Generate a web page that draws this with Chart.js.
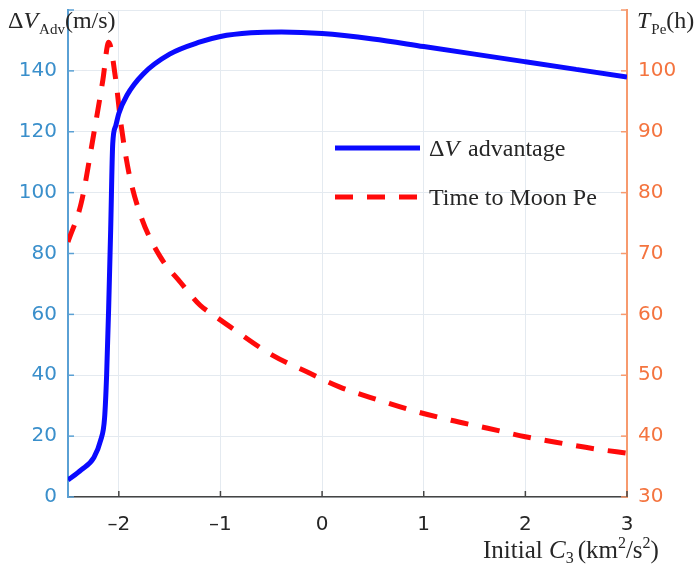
<!DOCTYPE html>
<html>
<head>
<meta charset="utf-8">
<script src="https://cdn.jsdelivr.net/npm/chart.js@4.4.1/dist/chart.umd.min.js"></script>
<style>
  html, body { margin: 0; padding: 0; background: #fff; }
  #wrap { width: 700px; height: 573px; position: relative; }
</style>
</head>
<body>
<div id="wrap"><canvas id="chart" width="700" height="573"></canvas></div>
<script>
// Delta-V advantage (m/s) against initial C3
const dvC3 = [-2.5, -2.37, -2.245, -2.18, -2.14, -2.12, -2.1, -2.08, -2.06, -2.03, -2.0, -1.92, -1.76, -1.5, -1.2, -1.0, -0.7, -0.4, 0, 0.5, 1, 1.5, 2, 2.5, 3];
const dvAdv = [5.6, 8.9, 13, 18.5, 26, 40, 62, 88, 116, 122, 126, 132, 139, 145.5, 149.5, 151.3, 152.5, 152.8, 152.3, 150.5, 148, 145.5, 143, 140.5, 138];

// time to Moon periapsis (h) against initial C3
const tpC3 = [-2.5, -2.37, -2.245, -2.157, -2.1, -2.03, -1.98, -1.9, -1.78, -1.59, -1.39, -1.2, -1.07, -0.9, -0.49, -0.13, 0.17, 0.56, 0.87, 1.27, 1.63, 2.0, 2.3, 2.69, 3.0];
const tpHours = [71.9, 78.3, 89.8, 98.5, 104.7, 98.5, 91.4, 83.2, 76, 69.4, 65.2, 61.5, 59.9, 57.9, 53.3, 50.4, 48.1, 45.9, 44.3, 42.6, 41.3, 39.9, 39, 37.9, 37.2];

const xTicks = [-2, -1, 0, 1, 2, 3];
const leftTicks = [0, 20, 40, 60, 80, 100, 120, 140];
const rightTicks = [30, 40, 50, 60, 70, 80, 90, 100];

const BLUE_TICK = '#3a8fcb';
const ORANGE_TICK = '#f4743f';
const GRID = '#e4eaf0';
const SERIF = '"Liberation Serif", "DejaVu Serif", serif';
const SANS = '"DejaVu Sans", Arial, sans-serif';

function pts(xs, ys) {
  return xs.map((x, i) => ({ x, y: ys[i] }));
}

// draw a run of text pieces: [text, font, dy, extra gap]
function drawRun(ctx, x, y, parts) {
  let cx = x;
  parts.forEach(p => {
    ctx.font = p[1];
    ctx.fillText(p[0], cx, y + (p[2] || 0));
    cx += ctx.measureText(p[0]).width + (p[3] || 0);
  });
  return cx;
}

// inward tick marks, matlab style
const innerTicks = {
  id: 'innerTicks',
  afterDatasetsDraw(chart) {
    const ctx = chart.ctx;
    const a = chart.chartArea;
    const sx = chart.scales.x, sy = chart.scales.y, sy1 = chart.scales.y1;
    ctx.save();
    ctx.lineWidth = 1.5;
    ctx.strokeStyle = '#5aa0d4';
    leftTicks.concat([160]).forEach(v => {
      const y = sy.getPixelForValue(v);
      ctx.beginPath(); ctx.moveTo(a.left, y); ctx.lineTo(a.left + 6, y); ctx.stroke();
    });
    ctx.strokeStyle = '#f79a6e';
    rightTicks.concat([110]).forEach(v => {
      const y = sy1.getPixelForValue(v);
      ctx.beginPath(); ctx.moveTo(a.right, y); ctx.lineTo(a.right - 6, y); ctx.stroke();
    });
    ctx.strokeStyle = '#444';
    xTicks.forEach(v => {
      const x = sx.getPixelForValue(v);
      ctx.beginPath(); ctx.moveTo(x, a.bottom); ctx.lineTo(x, a.bottom - 6); ctx.stroke();
    });
    ctx.restore();
  }
};

const overlay = {
  id: 'overlay',
  afterDraw(chart) {
    const ctx = chart.ctx;
    ctx.save();
    ctx.fillStyle = '#262626';
    ctx.textBaseline = 'alphabetic';
    ctx.textAlign = 'left';

    // left axis title
    drawRun(ctx, 8, 28, [
      ['\u0394', '24px ' + SERIF],
      ['V', 'italic 24px ' + SERIF, 0, 1],
      ['Adv', '15px ' + SERIF, 6],
      ['(m/s)', '24px ' + SERIF]
    ]);
    // right axis title
    drawRun(ctx, 637, 28, [
      ['T', 'italic 24px ' + SERIF, 0, 1],
      ['Pe', '15px ' + SERIF, 6],
      ['(h)', '24px ' + SERIF]
    ]);
    // x axis title
    drawRun(ctx, 483, 558, [
      ['Initial ', '25px ' + SERIF],
      ['C', 'italic 25px ' + SERIF],
      ['3', '16px ' + SERIF, 5, 4],
      ['(km', '25px ' + SERIF],
      ['2', '16px ' + SERIF, -10],
      ['/s', '25px ' + SERIF],
      ['2', '16px ' + SERIF, -10],
      [')', '25px ' + SERIF]
    ]);

    // legend
    ctx.lineWidth = 5;
    ctx.strokeStyle = '#0a0aff';
    ctx.beginPath();
    ctx.moveTo(335, 148);
    ctx.lineTo(420, 148);
    ctx.stroke();
    ctx.strokeStyle = '#ff0a0a';
    ctx.setLineDash([18, 14]);
    ctx.beginPath();
    ctx.moveTo(335, 197);
    ctx.lineTo(420, 197);
    ctx.stroke();
    ctx.setLineDash([]);
    ctx.fillStyle = '#262626';
    drawRun(ctx, 429, 156, [
      ['\u0394', '24px ' + SERIF],
      ['V', 'italic 24px ' + SERIF, 0, 3],
      [' advantage', '24px ' + SERIF]
    ]);
    drawRun(ctx, 429, 205, [
      ['Time to Moon Pe', '24px ' + SERIF]
    ]);
    ctx.restore();
  }
};

function noPad(s) {
  s.paddingTop = 0;
  s.paddingBottom = 0;
  s.paddingLeft = 0;
  s.paddingRight = 0;
}

new Chart(document.getElementById('chart'), {
  type: 'line',
  data: {
    datasets: [
      {
        label: '\u0394V advantage',
        data: pts(dvC3, dvAdv),
        yAxisID: 'y',
        borderColor: '#0a0aff',
        borderWidth: 5,
        pointRadius: 0,
        cubicInterpolationMode: 'monotone',
        fill: false
      },
      {
        label: 'Time to Moon Pe',
        data: pts(tpC3, tpHours),
        yAxisID: 'y1',
        borderColor: '#ff0a0a',
        borderWidth: 5,
        borderDash: [18, 14],
        pointRadius: 0,
        cubicInterpolationMode: 'monotone',
        fill: false
      }
    ]
  },
  options: {
    responsive: false,
    animation: false,
    devicePixelRatio: 1,
    layout: { padding: { top: 10, left: 0, right: 0, bottom: 0 } },
    plugins: {
      legend: { display: false },
      tooltip: { enabled: false }
    },
    scales: {
      x: {
        type: 'linear',
        min: -2.5,
        max: 3,
        afterBuildTicks: s => { s.ticks = xTicks.map(v => ({ value: v })); },
        afterFit: s => { s.height = 76; noPad(s); },
        grid: { color: GRID, drawTicks: false },
        border: { color: '#444', width: 1.5 },
        ticks: {
          color: '#262626',
          font: { family: SANS, size: 20 },
          padding: 16,
          callback: v => String(v).replace('-', '\u2013')
        }
      },
      y: {
        position: 'left',
        min: 0,
        max: 160,
        afterBuildTicks: s => { s.ticks = leftTicks.concat([160]).map(v => ({ value: v })); },
        afterFit: s => { s.width = 68; noPad(s); },
        grid: { color: GRID, drawTicks: false },
        border: { color: '#5aa0d4', width: 2 },
        ticks: {
          color: BLUE_TICK,
          font: { family: SANS, size: 20 },
          padding: 11,
          callback: v => (v === 160 ? '' : v)
        }
      },
      y1: {
        position: 'right',
        min: 30,
        max: 110,
        afterBuildTicks: s => { s.ticks = rightTicks.concat([110]).map(v => ({ value: v })); },
        afterFit: s => { s.width = 73; noPad(s); },
        grid: { display: false, drawTicks: false },
        border: { color: '#f79a6e', width: 2 },
        ticks: {
          color: ORANGE_TICK,
          font: { family: SANS, size: 20 },
          padding: 11,
          callback: v => (v === 110 ? '' : v)
        }
      }
    }
  },
  plugins: [innerTicks, overlay]
});
</script>
</body>
</html>
